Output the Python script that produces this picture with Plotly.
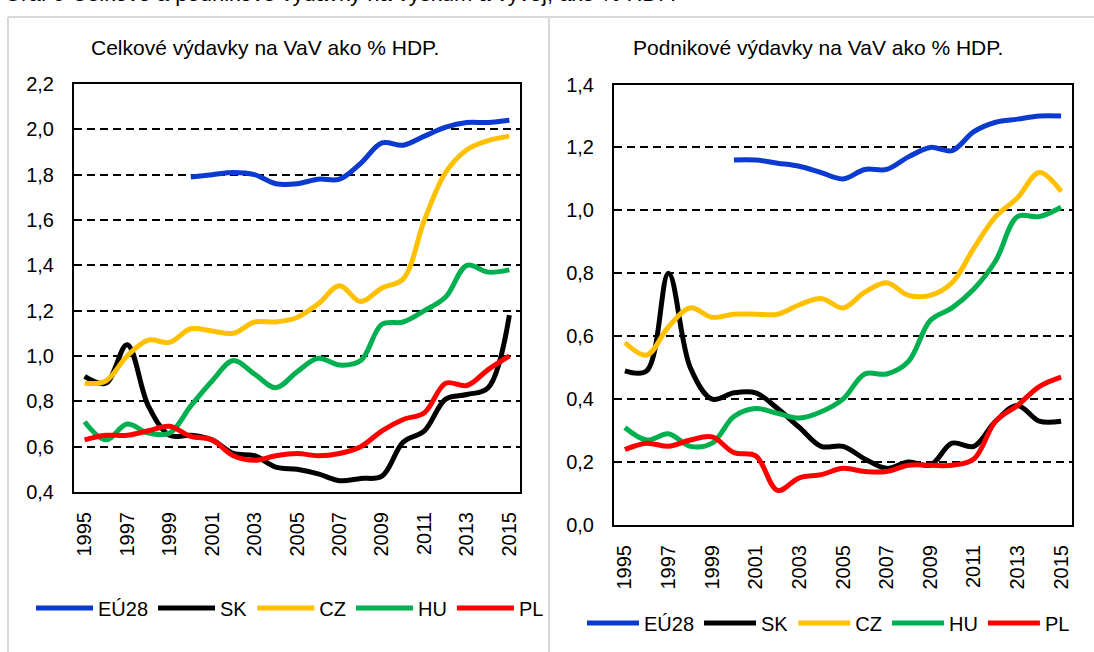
import plotly.graph_objects as go

years = list(range(1995, 2016))
tick_years = list(range(1995, 2016, 2))
series_names = ["EÚ28", "SK", "CZ", "HU", "PL"]
colors = ["#0A3ACF", "#000000", "#FFC000", "#00B050", "#FF0000"]

# Celkové výdavky na VaV ako % HDP (1995-2015)
gerd_eu28 = [None] * 5 + [1.79, 1.80, 1.81, 1.80, 1.76, 1.76, 1.78, 1.78, 1.85, 1.94,
                          1.93, 1.97, 2.01, 2.03, 2.03, 2.04]
gerd_sk = [0.91, 0.88, 1.05, 0.78, 0.65, 0.65, 0.63, 0.57, 0.56, 0.51, 0.50, 0.48, 0.45,
           0.46, 0.47, 0.62, 0.67, 0.81, 0.83, 0.86, 1.18]
gerd_cz = [0.88, 0.89, 1.00, 1.07, 1.06, 1.12, 1.11, 1.10, 1.15, 1.15, 1.17, 1.23, 1.31,
           1.24, 1.30, 1.34, 1.60, 1.81, 1.91, 1.95, 1.97]
gerd_hu = [0.71, 0.63, 0.70, 0.66, 0.66, 0.78, 0.89, 0.98, 0.92, 0.86, 0.93, 0.99, 0.96,
           0.98, 1.14, 1.15, 1.20, 1.26, 1.40, 1.37, 1.38]
gerd_pl = [0.63, 0.65, 0.65, 0.67, 0.69, 0.645, 0.63, 0.56, 0.54, 0.56, 0.57, 0.56, 0.57,
           0.60, 0.67, 0.72, 0.75, 0.88, 0.87, 0.94, 1.00]

# Podnikové výdavky na VaV ako % HDP (1995-2015)
berd_eu28 = [None] * 5 + [1.16, 1.16, 1.15, 1.14, 1.12, 1.10, 1.13, 1.13, 1.17, 1.20,
                          1.19, 1.25, 1.28, 1.29, 1.30, 1.30]
berd_sk = [0.49, 0.49, 0.80, 0.50, 0.40, 0.42, 0.42, 0.37, 0.31, 0.25, 0.25, 0.21, 0.18,
           0.20, 0.19, 0.26, 0.25, 0.33, 0.38, 0.33, 0.33]
berd_cz = [0.58, 0.54, 0.63, 0.69, 0.66, 0.67, 0.67, 0.67, 0.70, 0.72, 0.69, 0.74, 0.77,
           0.73, 0.73, 0.77, 0.88, 0.98, 1.04, 1.12, 1.06]
berd_hu = [0.31, 0.27, 0.29, 0.25, 0.26, 0.345, 0.37, 0.355, 0.34, 0.36, 0.40, 0.48, 0.48,
           0.52, 0.65, 0.69, 0.75, 0.84, 0.98, 0.98, 1.01]
berd_pl = [0.24, 0.26, 0.25, 0.27, 0.28, 0.23, 0.22, 0.11, 0.15, 0.16, 0.18, 0.17, 0.17,
           0.19, 0.19, 0.19, 0.21, 0.33, 0.38, 0.44, 0.47]

gerd = [gerd_eu28, gerd_sk, gerd_cz, gerd_hu, gerd_pl]
berd = [berd_eu28, berd_sk, berd_cz, berd_hu, berd_pl]

W, H = 1094, 652
FONT = "Liberation Sans, Arial, sans-serif"


def px_x(p):
    return p / W


def px_y(p):
    return 1 - p / H


fig = go.Figure()
for name, col, vals in zip(series_names, colors, gerd):
    fig.add_trace(go.Scatter(x=years, y=vals, name=name, mode="lines",
                             line=dict(color=col, width=5, shape="spline", smoothing=1),
                             xaxis="x", yaxis="y", legend="legend", connectgaps=False))
for name, col, vals in zip(series_names, colors, berd):
    fig.add_trace(go.Scatter(x=years, y=vals, name=name, mode="lines",
                             line=dict(color=col, width=5, shape="spline", smoothing=1),
                             xaxis="x2", yaxis="y2", legend="legend2", connectgaps=False))

xcommon = dict(range=[1994.5, 2015.5], tickmode="array", tickvals=tick_years,
               ticktext=[str(y) for y in tick_years], tickangle=-90,
               showgrid=False, zeroline=False, showline=True, linecolor="black",
               linewidth=2, mirror=True, ticks="", ticklabelstandoff=10,
               tickfont=dict(size=20, color="black", family=FONT), automargin=False)
ycommon = dict(dtick=0.2, tickformat=".1f", showgrid=True, gridcolor="black",
               gridwidth=1.8, griddash="8px,5px", zeroline=False, showline=True,
               linecolor="black", linewidth=2, mirror=True, ticks="",
               ticklabelstandoff=14, tickfont=dict(size=20, color="black", family=FONT),
               automargin=False)

legend_common = dict(orientation="h", font=dict(size=20, color="black", family=FONT),
                     bgcolor="rgba(0,0,0,0)", xanchor="left", yanchor="middle",
                     tracegroupgap=0)

fig.update_layout(
    width=W, height=H, autosize=False,
    margin=dict(l=0, r=0, t=0, b=0),
    paper_bgcolor="white", plot_bgcolor="white",
    separators=", ",
    font=dict(family=FONT, color="black"),
    xaxis=dict(domain=[px_x(74), px_x(520)], anchor="y", **xcommon),
    yaxis=dict(domain=[px_y(492), px_y(84)], range=[0.4, 2.2], anchor="x", **ycommon),
    xaxis2=dict(domain=[px_x(614), px_x(1072)], anchor="y2", **xcommon),
    yaxis2=dict(domain=[px_y(525), px_y(84.5)], range=[0.0, 1.4], anchor="x2", **ycommon),
    legend=dict(x=px_x(31), y=px_y(608), itemwidth=57, **legend_common),
    legend2=dict(x=px_x(582), y=px_y(623), itemwidth=52, **legend_common),
    showlegend=True,
)

fig.add_annotation(text="Graf 5 Celkové a podnikové výdavky na výskum a vývoj, ako % HDP.",
                   xref="paper", yref="paper", x=px_x(2), y=px_y(8),
                   xanchor="left", yanchor="bottom", showarrow=False,
                   font=dict(size=22, color="black", family=FONT))
fig.add_annotation(text="Celkové výdavky na VaV ako % HDP.",
                   xref="paper", yref="paper", x=px_x(265), y=px_y(47),
                   xanchor="center", yanchor="middle", showarrow=False,
                   font=dict(size=21, color="black", family=FONT))
fig.add_annotation(text="Podnikové výdavky na VaV ako % HDP.",
                   xref="paper", yref="paper", x=px_x(818), y=px_y(47),
                   xanchor="center", yanchor="middle", showarrow=False,
                   font=dict(size=21, color="black", family=FONT))

frame = dict(type="line", xref="paper", yref="paper",
             line=dict(color="#D9D9D9", width=2), layer="below")
fig.add_shape(x0=px_x(8), x1=1, y0=px_y(17), y1=px_y(17), **frame)
fig.add_shape(x0=px_x(8), x1=px_x(8), y0=px_y(17), y1=0, **frame)
fig.add_shape(x0=px_x(549), x1=px_x(549), y0=px_y(17), y1=0, **frame)

fig.write_html(
    "out.html",
    config={"displayModeBar": False},
    post_script="document.body.style.margin='0';document.body.style.overflow='hidden';",
)
